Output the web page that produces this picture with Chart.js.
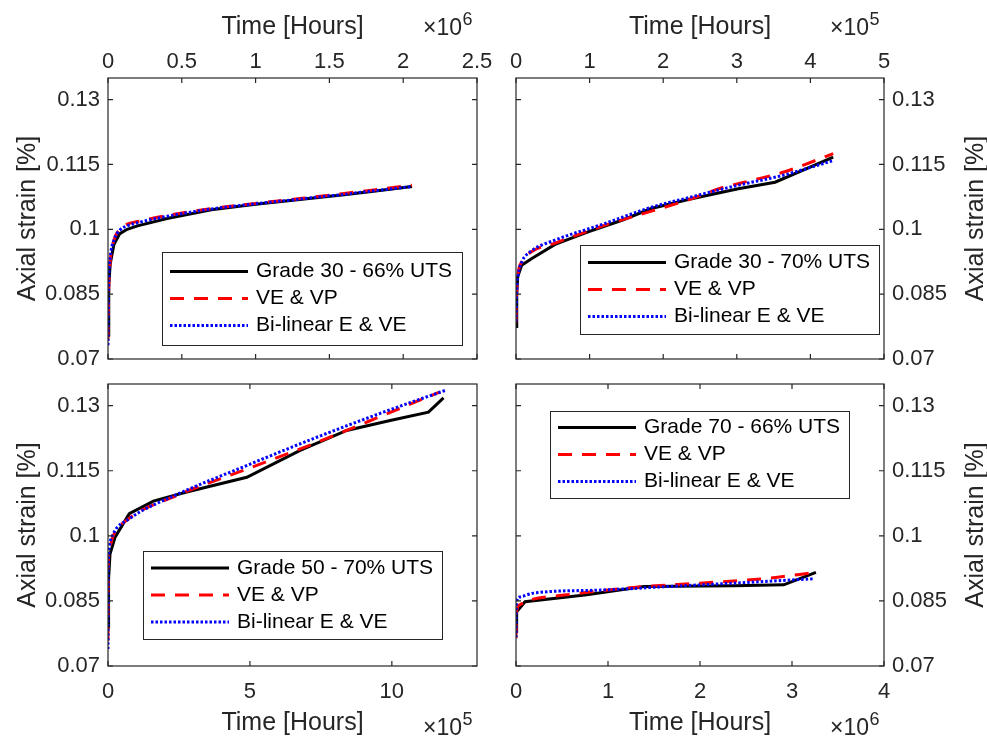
<!DOCTYPE html>
<html>
<head>
<meta charset="utf-8">
<script src="https://cdn.jsdelivr.net/npm/chart.js@4.4.1/dist/chart.umd.min.js"></script>
<style>
    html, body { margin: 0; padding: 0; background: #ffffff; }
    #wrap { position: relative; width: 987px; height: 738px; }
    #wrap canvas { position: absolute; left: 0; top: 0; }
</style>
</head>
<body>
<div id="wrap">
    <canvas id="tl" width="987" height="738"></canvas>
    <canvas id="tr" width="987" height="738"></canvas>
    <canvas id="bl" width="987" height="738"></canvas>
    <canvas id="br" width="987" height="738"></canvas>
</div>
<script>
const W = 987, H = 738;
const AXIS_COLOR = "#262626";
const FONT = '"Liberation Sans", Arial, Helvetica, sans-serif';

// strain axis, shared by all panels
const strainTicks = [0.07, 0.085, 0.1, 0.115, 0.13];
const strainTickLabels = ["0.07", "0.085", "0.1", "0.115", "0.13"];

// Grade 30 - 66% UTS (time in hours)
const g30_66Ticks = [0, 500000, 1000000, 1500000, 2000000, 2500000];
const g30_66TickLabels = ["0", "0.5", "1", "1.5", "2", "2.5"];
const g30_66TimeExp = [0, 5000, 15000, 40000, 80000, 130000, 200000, 400000, 700000, 1000000, 1300000, 1600000, 1800000, 2060000];
const g30_66StrainExp = [0.0755, 0.087, 0.092, 0.0965, 0.099, 0.1000, 0.1008, 0.1025, 0.1045, 0.1058, 0.1069, 0.1080, 0.1088, 0.1099];
const g30_66TimeVe = [0, 5000, 15000, 40000, 80000, 130000, 200000, 400000, 700000, 1000000, 1300000, 1600000, 1800000, 2060000];
const g30_66StrainVe = [0.0745, 0.086, 0.0925, 0.0975, 0.1000, 0.1012, 0.1018, 0.1032, 0.1048, 0.1060, 0.1071, 0.1083, 0.1091, 0.1102];
const g30_66TimeBl = [0, 5000, 15000, 40000, 80000, 130000, 200000, 400000, 700000, 1000000, 1300000, 1600000, 1800000, 2060000];
const g30_66StrainBl = [0.0732, 0.088, 0.0935, 0.0975, 0.0998, 0.1008, 0.1015, 0.1030, 0.1047, 0.1059, 0.1070, 0.1081, 0.1089, 0.1099];

// Grade 30 - 70% UTS
const g30_70Ticks = [0, 100000, 200000, 300000, 400000, 500000];
const g30_70TickLabels = ["0", "1", "2", "3", "4", "5"];
const g30_70TimeExp = [0, 1000, 2300, 7700, 21000, 53000, 98000, 144000, 184000, 234000, 302000, 352000, 431000];
const g30_70StrainExp = [0.0775, 0.085, 0.089, 0.0917, 0.0932, 0.0965, 0.0994, 0.1021, 0.1048, 0.1069, 0.1094, 0.1109, 0.1167];
const g30_70TimeVe = [0, 1000, 3000, 8000, 21000, 53000, 120000, 184000, 234000, 280000, 320000, 363000, 431000];
const g30_70StrainVe = [0.0785, 0.086, 0.090, 0.0925, 0.0948, 0.0968, 0.1009, 0.1042, 0.1068, 0.1096, 0.1113, 0.1132, 0.1175];
const g30_70TimeBl = [0, 1000, 3000, 8000, 21000, 53000, 120000, 184000, 234000, 302000, 363000, 431000];
const g30_70StrainBl = [0.0787, 0.086, 0.0895, 0.0925, 0.0950, 0.0975, 0.1013, 0.1051, 0.1073, 0.1102, 0.1125, 0.1159];

// Grade 50 - 70% UTS
const g50_70Ticks = [0, 500000, 1000000];
const g50_70TickLabels = ["0", "5", "10"];
const g50_70TimeExp = [0, 2000, 7000, 25000, 75000, 160000, 277000, 489000, 677000, 841000, 994000, 1129000, 1182000];
const g50_70StrainExp = [0.0790, 0.090, 0.0958, 0.0997, 0.1051, 0.1080, 0.1101, 0.1135, 0.1197, 0.1243, 0.1266, 0.1285, 0.1318];
const g50_70TimeVe = [0, 1000, 5000, 19000, 72000, 242000, 477000, 723000, 841000, 970000, 1170000];
const g50_70StrainVe = [0.0758, 0.0928, 0.097, 0.1001, 0.1039, 0.1093, 0.1151, 0.1212, 0.1243, 0.1278, 0.1332];
const g50_70TimeBl = [0, 1000, 5000, 19000, 72000, 242000, 477000, 723000, 970000, 1187000];
const g50_70StrainBl = [0.0739, 0.091, 0.0975, 0.1005, 0.1038, 0.1095, 0.1159, 0.1224, 0.1285, 0.1335];

// Grade 70 - 66% UTS
const g70_66Ticks = [0, 1000000, 2000000, 3000000, 4000000];
const g70_66TickLabels = ["0", "1", "2", "3", "4"];
const g70_66TimeExp = [0, 7000, 98000, 770000, 1390000, 2370000, 2910000, 3260000];
const g70_66StrainExp = [0.0780, 0.0825, 0.0848, 0.0864, 0.0883, 0.0885, 0.0887, 0.0916];
const g70_66TimeVe = [0, 7000, 40000, 120000, 550000, 1390000, 2000000, 2730000, 3260000];
const g70_66StrainVe = [0.0764, 0.0825, 0.0841, 0.0850, 0.0864, 0.0883, 0.0891, 0.0902, 0.0916];
const g70_66TimeBl = [0, 5000, 40000, 190000, 920000, 1640000, 2370000, 3240000];
const g70_66StrainBl = [0.0766, 0.0845, 0.0859, 0.0868, 0.0875, 0.0883, 0.0891, 0.0901];


function zip (xs, ys) {
    return xs.map((x, i) => ({ x: x, y: ys[i] }));
}

function curveSets (label, tExp, sExp, tVe, sVe, tBl, sBl) {
    const common = { pointRadius: 0, pointHoverRadius: 0, fill: false, borderWidth: 3 };
    return [
        { ...common, label: label, data: zip(tExp, sExp), borderColor: "#000000", tension: 0, order: 3 },
        { ...common, label: "VE & VP", data: zip(tVe, sVe), borderColor: "#ff0000",
          borderDash: [14, 10], cubicInterpolationMode: "monotone", order: 2 },
        { ...common, label: "Bi-linear E & VE", data: zip(tBl, sBl), borderColor: "#0000ff",
          borderDash: [2.5, 2], cubicInterpolationMode: "monotone", order: 1 }
    ];
}

// box, inward ticks, axis titles, exponent and legend, drawn the way MATLAB does
const matlabAxes = {
    id: "matlabAxes",
    afterDraw (chart, args, opts) {
        const { ctx, chartArea: a } = chart;
        const xs = chart.scales.x, ys = chart.scales.y;
        const TICK = 5;
        ctx.save();

        ctx.strokeStyle = AXIS_COLOR;
        ctx.lineWidth = 1.2;
        ctx.setLineDash([]);
        ctx.strokeRect(a.left, a.top, a.right - a.left, a.bottom - a.top);
        ctx.beginPath();
        xs.ticks.forEach(t => {
            const px = xs.getPixelForValue(t.value);
            ctx.moveTo(px, a.top); ctx.lineTo(px, a.top + TICK);
            ctx.moveTo(px, a.bottom); ctx.lineTo(px, a.bottom - TICK);
        });
        ys.ticks.forEach(t => {
            const py = ys.getPixelForValue(t.value);
            ctx.moveTo(a.left, py); ctx.lineTo(a.left + TICK, py);
            ctx.moveTo(a.right, py); ctx.lineTo(a.right - TICK, py);
        });
        ctx.stroke();

        // axis titles
        ctx.fillStyle = AXIS_COLOR;
        ctx.font = "25px " + FONT;
        ctx.textAlign = "center";
        ctx.textBaseline = "middle";
        ctx.fillText("Time [Hours]", (a.left + a.right) / 2, opts.xTitleY);
        ctx.save();
        ctx.translate(opts.yTitleX, (a.top + a.bottom) / 2);
        ctx.rotate(-Math.PI / 2);
        ctx.fillText("Axial strain [%]", 0, 0);
        ctx.restore();

        // x10^n exponent
        ctx.textAlign = "left";
        ctx.textBaseline = "alphabetic";
        ctx.font = "23px " + FONT;
        ctx.fillText("\u00d710", opts.expX, opts.expY);
        const w = ctx.measureText("\u00d710").width;
        ctx.font = "18px " + FONT;
        ctx.fillText(String(opts.expPow), opts.expX + w + 0.5, opts.expY - 10);

        // legend
        const lg = opts.legend;
        ctx.fillStyle = "#ffffff";
        ctx.fillRect(lg.x, lg.y, lg.w, lg.h);
        ctx.strokeStyle = AXIS_COLOR;
        ctx.lineWidth = 1;
        ctx.strokeRect(lg.x + 0.5, lg.y + 0.5, lg.w, lg.h);
        ctx.font = "21px " + FONT;
        ctx.textBaseline = "middle";
        chart.data.datasets.forEach((ds, i) => {
            const cy = lg.y + lg.h / 2 + (i - 1) * 27;
            ctx.strokeStyle = ds.borderColor;
            ctx.lineWidth = ds.borderWidth;
            ctx.setLineDash(ds.borderDash || []);
            ctx.beginPath();
            ctx.moveTo(lg.x + 8, cy);
            ctx.lineTo(lg.x + 86, cy);
            ctx.stroke();
            ctx.setLineDash([]);
            ctx.fillStyle = "#000000";
            ctx.fillText(ds.label, lg.x + 94, cy);
        });
        ctx.restore();
    }
};

function createPanel (canvas, { datasets, xTicks, xTickLabels, xMax, xPos, yPos, area,
                                 xLabelPad, deco }) {
    const pad = {
        top: xPos === "top" ? 0 : area.top,
        bottom: xPos === "top" ? H - area.bottom : 0,
        left: yPos === "left" ? 0 : area.left,
        right: yPos === "left" ? W - area.right : 0
    };

    return new Chart(canvas, {
        type: "line",
        data: { datasets: datasets },
        options: {
            responsive: false,
            animation: false,
            events: [],
            layout: { padding: pad },
            scales: {
                x: {
                    type: "linear",
                    position: xPos,
                    min: 0,
                    max: xMax,
                    grid: { display: false, drawTicks: false },
                    border: { display: false },
                    ticks: {
                        color: AXIS_COLOR,
                        font: { size: 22, family: FONT },
                        padding: xLabelPad,
                        autoSkip: false,
                        maxRotation: 0,
                        minRotation: 0,
                        callback: function (value, index) {
                            return xTickLabels[index];
                        }
                    },
                    afterBuildTicks: function (scale) {
                        scale.ticks = xTicks.map(v => ({ value: v }));
                    },
                    afterFit: function (scale) {
                        scale.height = xPos === "top" ? area.top : H - area.bottom;
                    }
                },
                y: {
                    type: "linear",
                    position: yPos,
                    min: 0.07,
                    max: 0.135,
                    grid: { display: false, drawTicks: false },
                    border: { display: false },
                    ticks: {
                        color: AXIS_COLOR,
                        font: { size: 22, family: FONT },
                        padding: 8,
                        autoSkip: false,
                        callback: function (value, index) {
                            return strainTickLabels[index];
                        }
                    },
                    afterBuildTicks: function (scale) {
                        scale.ticks = strainTicks.map(v => ({ value: v }));
                    },
                    afterFit: function (scale) {
                        scale.width = yPos === "left" ? area.left : W - area.right;
                    }
                }
            },
            plugins: {
                legend: { display: false },
                tooltip: { enabled: false },
                matlabAxes: deco
            }
        },
        plugins: [matlabAxes]
    });
}

createPanel(document.getElementById("tl"), {
    datasets: curveSets("Grade 30 - 66% UTS", g30_66TimeExp, g30_66StrainExp,
                        g30_66TimeVe, g30_66StrainVe, g30_66TimeBl, g30_66StrainBl),
    xTicks: g30_66Ticks, xTickLabels: g30_66TickLabels, xMax: 2500000,
    xPos: "top", yPos: "left",
    area: { left: 108, right: 477, top: 78, bottom: 359 },
    xLabelPad: 3,
    deco: { xTitleY: 27, yTitleX: 28, expX: 423, expY: 35, expPow: 6,
            legend: { x: 162, y: 252, w: 300, h: 93 } }
});

createPanel(document.getElementById("tr"), {
    datasets: curveSets("Grade 30 - 70% UTS", g30_70TimeExp, g30_70StrainExp,
                        g30_70TimeVe, g30_70StrainVe, g30_70TimeBl, g30_70StrainBl),
    xTicks: g30_70Ticks, xTickLabels: g30_70TickLabels, xMax: 500000,
    xPos: "top", yPos: "right",
    area: { left: 516, right: 884, top: 78, bottom: 359 },
    xLabelPad: 3,
    deco: { xTitleY: 27, yTitleX: 976, expX: 830, expY: 35, expPow: 5,
            legend: { x: 580, y: 245, w: 299, h: 89 } }
});

createPanel(document.getElementById("bl"), {
    datasets: curveSets("Grade 50 - 70% UTS", g50_70TimeExp, g50_70StrainExp,
                        g50_70TimeVe, g50_70StrainVe, g50_70TimeBl, g50_70StrainBl),
    xTicks: g50_70Ticks, xTickLabels: g50_70TickLabels, xMax: 1300000,
    xPos: "bottom", yPos: "left",
    area: { left: 108, right: 477, top: 384, bottom: 666 },
    xLabelPad: 13,
    deco: { xTitleY: 723, yTitleX: 28, expX: 423, expY: 735, expPow: 5,
            legend: { x: 143, y: 551, w: 299, h: 88 } }
});

createPanel(document.getElementById("br"), {
    datasets: curveSets("Grade 70 - 66% UTS", g70_66TimeExp, g70_66StrainExp,
                        g70_66TimeVe, g70_66StrainVe, g70_66TimeBl, g70_66StrainBl),
    xTicks: g70_66Ticks, xTickLabels: g70_66TickLabels, xMax: 4000000,
    xPos: "bottom", yPos: "right",
    area: { left: 516, right: 884, top: 384, bottom: 666 },
    xLabelPad: 13,
    deco: { xTitleY: 723, yTitleX: 976, expX: 830, expY: 735, expPow: 6,
            legend: { x: 550, y: 411, w: 299, h: 87 } }
});
</script>
</body>
</html>
